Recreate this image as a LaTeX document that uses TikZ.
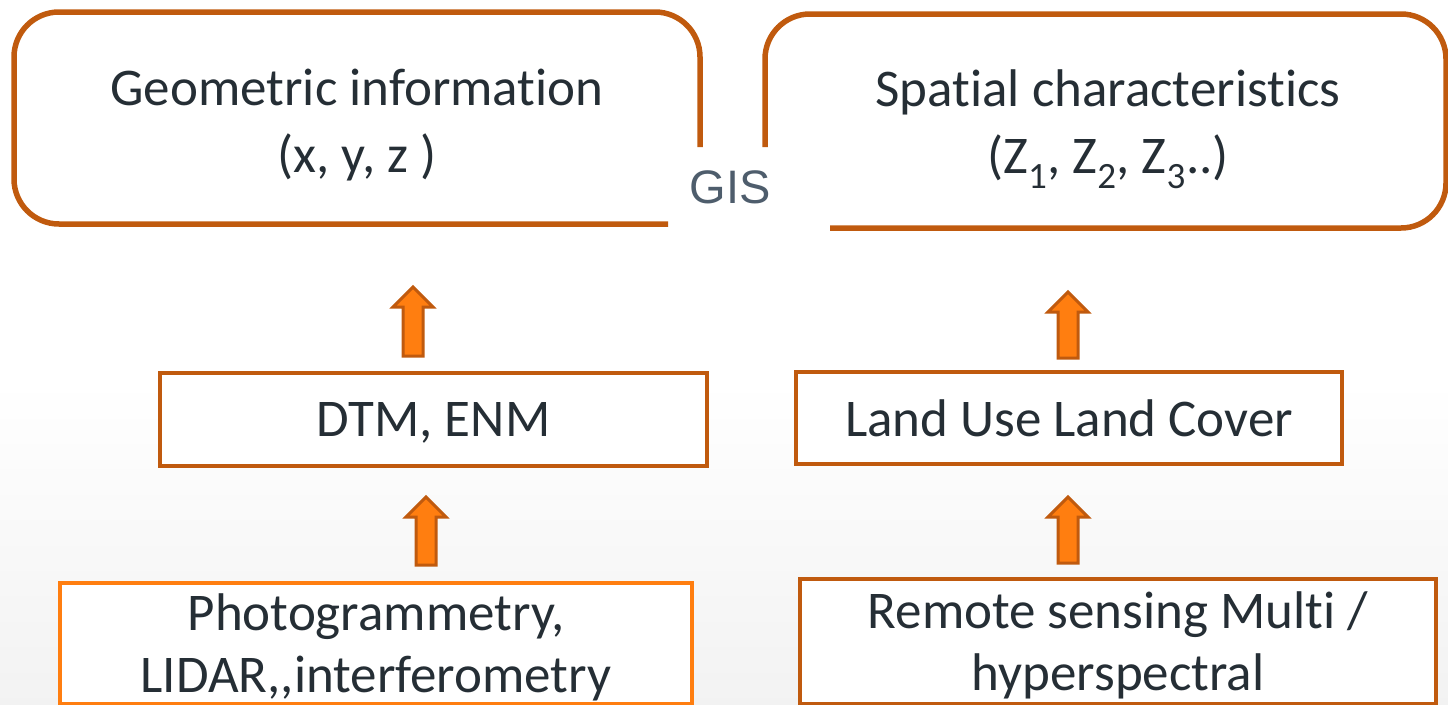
\documentclass[tikz,border=0pt]{standalone}
\usepackage{fontspec}
\setmainfont{Carlito}[Ligatures={TeX,NoCommon}]
\newfontfamily\gisfont{Liberation Sans}
\usetikzlibrary{positioning}
\definecolor{darkorange}{HTML}{C05A0E}
\definecolor{brightorange}{HTML}{FF7E10}
\definecolor{inktext}{HTML}{252E35}
\definecolor{gisgray}{HTML}{4E5D6C}
\tikzset{
  bigtext/.style={text=inktext, font=\fontsize{53}{67}\selectfont, align=center},
  databox/.style={draw=darkorange, line width=4pt, fill=white, text=inktext,
    font=\fontsize{53}{62}\selectfont, align=center, inner sep=0pt, text depth=0pt},
  topframe/.style={draw=darkorange, line width=5.5pt, rounded corners=45pt},
  pics/uparrow/.style={code={
    \filldraw[draw=darkorange, fill=brightorange, line width=3pt, line join=miter]
      (-10,0) -- (-10,-#1+20) -- (-20,-#1+20) -- (0,-#1) -- (20,-#1+20)
      -- (10,-#1+20) -- (10,0) -- cycle;
  }}
}
\begin{document}
\begin{tikzpicture}[x=1pt, y=-1pt]
  \useasboundingbox (0,0) rectangle (1448,704);
  \shade[top color=white, bottom color=black!5] (0,380) rectangle (1448,704);
  % top frames, open near GIS
  \draw[topframe] (668,224) -- (14,224) -- (14,12) -- (700,12) -- (700,147);
  \draw[topframe] (765,147) -- (765,14) -- (1446,14) -- (1446,228) -- (830,228);
  \node[bigtext] (geo) at (357,125) {Geometric information\\(x, y, z )};
  \node[bigtext] (spat) at (1108,129) {Spatial characteristics\\(Z\textsubscript{1}, Z\textsubscript{2}, Z\textsubscript{3}..)};
  \node[text=gisgray, font=\gisfont\fontsize{47}{56}\selectfont] (gis) at (730,187) {GIS};
  % middle boxes
  \node[databox, minimum width=547pt, minimum height=93pt] (dtm) at (433.5,419.5) {DTM, ENM};
  \node[databox, minimum width=546pt, minimum height=92pt] (lulc) at (1069,418) {Land Use Land Cover};
  % source boxes
  \node[databox, draw=brightorange, minimum width=632pt, minimum height=121pt] (photo) at (376,643) {Photogrammetry,\\LIDAR,{},interferometry};
  \node[databox, minimum width=636pt, minimum height=125pt] (rs) at (1118,641) {Remote sensing Multi /\\hyperspectral};
  % arrows
  \pic at (413,356) {uparrow=69};
  \pic at (426,565) {uparrow=68};
  \pic at (1068,358) {uparrow=66};
  \pic at (1068,563) {uparrow=66};
\end{tikzpicture}
\end{document}
